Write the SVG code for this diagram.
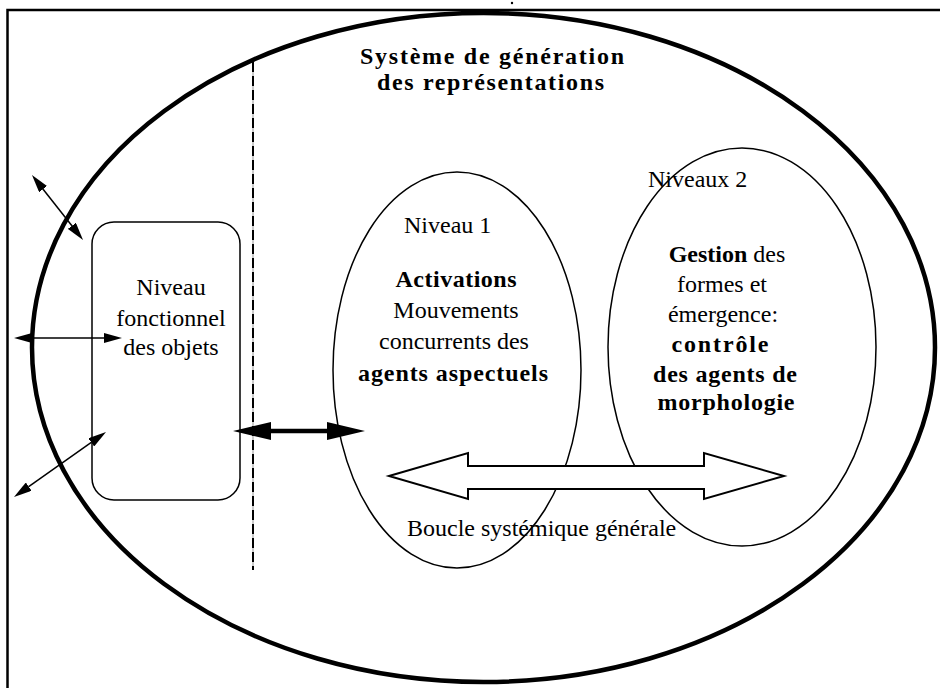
<svg xmlns="http://www.w3.org/2000/svg" width="940" height="688" viewBox="0 0 940 688">
<style>
text{font-family:"Liberation Serif","Times New Roman",serif;font-size:24px;fill:#000}
.b{font-weight:bold}
.thin{fill:none;stroke:#000;stroke-width:1.5}
.con{stroke:#000;stroke-width:1.5;fill:none}
</style>
<defs>
<marker id="ah" markerUnits="userSpaceOnUse" markerWidth="18" markerHeight="10" refX="0" refY="5" orient="auto-start-reverse"><path d="M0,0 L18,5 L0,10 z" fill="#000"/></marker>
<marker id="ahT" markerUnits="userSpaceOnUse" markerWidth="38" markerHeight="18" refX="0" refY="9" orient="auto-start-reverse"><path d="M0,0 L38,9 L0,18 z" fill="#000"/></marker>
</defs>
<rect width="940" height="688" fill="#fff"/>
<circle cx="512" cy="3" r="1.2" fill="#000"/>
<g id="frame"><path d="M7.5,688 V10 H940" fill="none" stroke="#000" stroke-width="2.5"/></g>
<g id="systeme">
<ellipse cx="483.5" cy="347.5" rx="451.5" ry="334.5" fill="none" stroke="#000" stroke-width="4.5"/>
<text class="b" x="492" y="64" text-anchor="middle" textLength="264" lengthAdjust="spacing">Système de génération</text>
<text class="b" x="490.5" y="90" text-anchor="middle" textLength="227" lengthAdjust="spacing">des représentations</text>
</g>
<g id="separateur">
<line x1="253" y1="62" x2="253" y2="570" stroke="#bbb" stroke-width="1.5"/>
<line x1="253" y1="62" x2="253" y2="570" stroke="#000" stroke-width="2" stroke-dasharray="10,4"/>
</g>
<g id="objets">
<rect x="92" y="222" width="148" height="278" rx="22" ry="22" class="thin"/>
<text x="171" y="295" text-anchor="middle">Niveau</text>
<text x="171" y="326" text-anchor="middle">fonctionnel</text>
<text x="171" y="355" text-anchor="middle">des objets</text>
</g>
<g id="niveau1">
<ellipse cx="457" cy="370" rx="124" ry="198" class="thin"/>
<text x="404" y="233">Niveau 1</text>
<text class="b" x="456" y="287" text-anchor="middle" textLength="121" lengthAdjust="spacing">Activations</text>
<text x="456" y="318" text-anchor="middle">Mouvements</text>
<text x="454" y="349" text-anchor="middle">concurrents des</text>
<text class="b" x="453" y="381" text-anchor="middle" textLength="190" lengthAdjust="spacing">agents  aspectuels</text>
</g>
<g id="niveau2">
<ellipse cx="742" cy="347" rx="134" ry="199" class="thin"/>
<text x="648" y="187">Niveaux 2</text>
<text x="727" y="262" text-anchor="middle"><tspan class="b">Gestion</tspan> des</text>
<text x="722" y="292" text-anchor="middle">formes et</text>
<text x="723" y="322" text-anchor="middle">émergence:</text>
<text class="b" x="720" y="352" text-anchor="middle" textLength="97" lengthAdjust="spacing">contrôle</text>
<text class="b" x="725" y="382" text-anchor="middle" textLength="144" lengthAdjust="spacing">des agents de</text>
<text class="b" x="726" y="410" text-anchor="middle" textLength="137" lengthAdjust="spacing">morphologie</text>
</g>
<g id="boucle">
<polygon points="389,476 468,453 468,466 704,466 704,453 784,476 704,499 704,489 468,489 468,499" fill="#fff" stroke="#000" stroke-width="2"/>
<text x="407" y="536">Boucle systémique générale</text>
</g>
<g id="connecteurs">
<line class="con" x1="43.1" y1="189.2" x2="71.9" y2="225.8" marker-start="url(#ah)" marker-end="url(#ah)"/>
<line class="con" x1="32" y1="338" x2="104" y2="338" marker-start="url(#ah)" marker-end="url(#ah)"/>
<line class="con" x1="91.3" y1="442.4" x2="28.7" y2="486.6" marker-start="url(#ah)" marker-end="url(#ah)"/>
<line x1="271" y1="431" x2="327" y2="431" stroke="#000" stroke-width="4.5" marker-start="url(#ahT)" marker-end="url(#ahT)"/>
</g>
</svg>
